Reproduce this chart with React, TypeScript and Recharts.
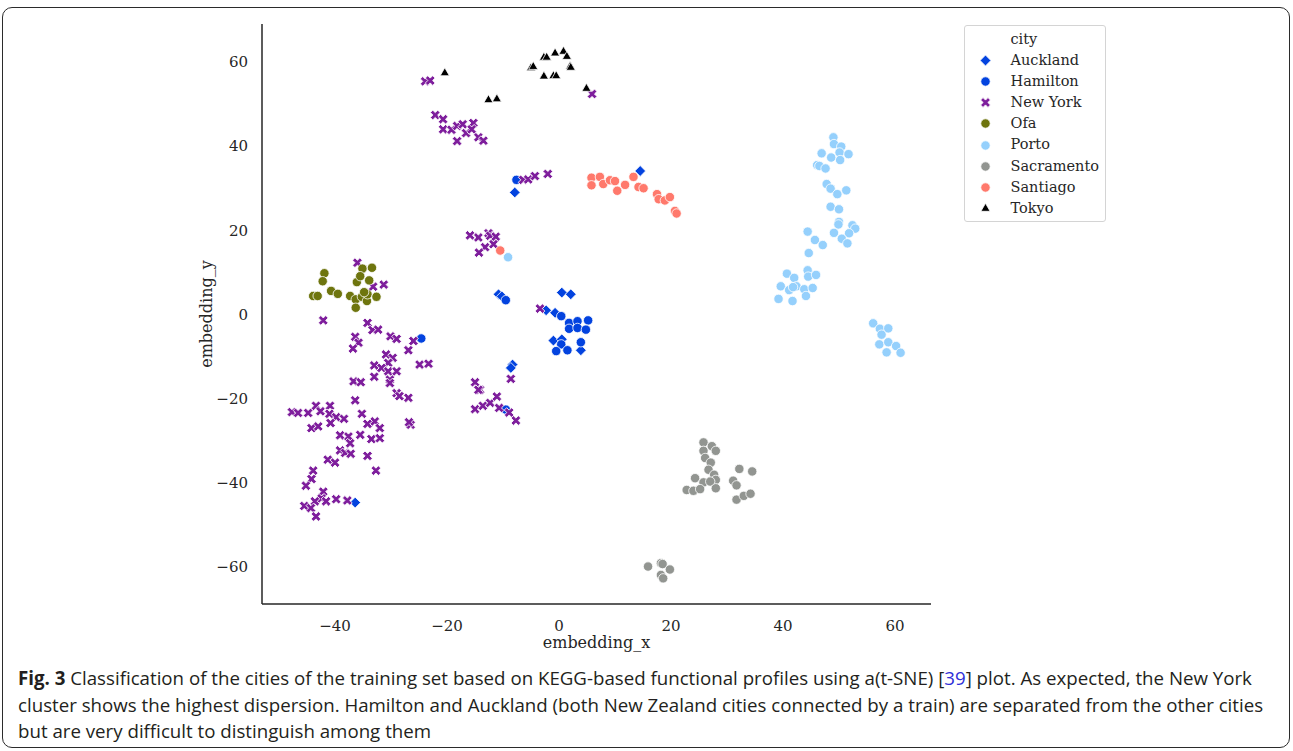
import React from 'react'
import { Label, Scatter, ScatterChart, XAxis, YAxis } from 'recharts'

type Pt = [number, number]

const CITIES = ['Auckland', 'Hamilton', 'New York', 'Ofa', 'Porto', 'Sacramento', 'Santiago', 'Tokyo']

const AUCKLAND: Pt[] = [
    [14.5, 34.1], [-7.9, 29.0], [-10.8, 4.8], [-10.2, 4.3], [0.5, 5.2], [2.1, 4.8],
    [-2.3, 1.0], [-0.7, 0.4], [-1.0, -6.2], [0.5, -5.9], [3.9, -8.5],
    [-8.3, -11.9], [-8.6, -12.7], [-36.4, -44.7],
]

const HAMILTON: Pt[] = [
    [-7.6, 32.0], [-9.5, 3.4], [0.4, -0.4], [1.8, -2.0], [3.3, -1.6], [5.2, -1.4],
    [1.8, -3.4], [3.3, -3.2], [4.8, -3.6], [0.4, -7.1], [-0.5, -8.7], [1.5, -8.5],
    [3.9, -6.6], [-24.6, -5.7], [-9.5, -22.6],
]

const NEW_YORK: Pt[] = [
    [-23.9, 55.4], [-23.0, 55.6], [5.9, 52.4],
    [-22.1, 47.4], [-20.7, 46.4], [-20.7, 44.0], [-19.2, 43.9], [-18.2, 44.8], [-17.2, 45.2],
    [-16.6, 43.1], [-15.3, 45.5], [-15.6, 44.0], [-14.4, 42.1], [-13.5, 41.3], [-18.2, 41.2],
    [-6.4, 32.0], [-5.5, 32.1], [-4.3, 32.9], [-2.0, 33.4],
    [-15.9, 18.8], [-14.4, 18.3], [-12.6, 19.3], [-12.3, 18.7], [-11.3, 18.5], [-13.2, 16.0],
    [-11.7, 16.7], [-14.3, 14.7],
    [-36.0, 12.3], [-33.2, 6.6], [-31.3, 7.1], [-42.1, -1.4], [-3.4, 1.4],
    [-8.6, -15.3], [-14.1, -17.9], [-15.0, -16.1], [-14.4, -17.9], [-15.0, -22.5], [-13.6, -21.7],
    [-12.3, -21.0], [-11.1, -19.5], [-10.7, -22.2], [-8.9, -23.3], [-7.7, -25.2],
    [-34.2, -2.0], [-33.3, -3.7], [-32.3, -3.6], [-36.4, -5.3], [-35.8, -6.7], [-36.8, -8.1],
    [-30.1, -5.2], [-29.0, -5.8], [-26.9, -8.5], [-26.0, -6.3], [-30.9, -9.5], [-29.7, -10.3],
    [-30.5, -11.5], [-33.0, -12.1], [-31.7, -12.7], [-30.5, -13.5], [-29.0, -13.5], [-33.0, -14.8],
    [-30.2, -15.5], [-30.2, -16.3], [-36.7, -15.9], [-35.4, -16.1], [-24.9, -11.9], [-23.3, -11.7],
    [-29.0, -18.7], [-28.5, -19.4], [-26.9, -19.8], [-36.4, -20.4],
    [-47.7, -23.2], [-46.6, -23.4], [-44.8, -23.4], [-43.4, -21.7], [-42.6, -23.0], [-40.9, -21.7],
    [-41.0, -23.6], [-39.8, -24.4], [-38.4, -24.8], [-40.8, -25.8], [-44.2, -27.0], [-43.0, -26.6],
    [-35.2, -23.6], [-34.2, -26.0], [-32.9, -25.4], [-32.0, -27.0], [-33.5, -29.6], [-32.0, -29.4],
    [-35.5, -28.6], [-39.1, -28.7], [-37.6, -29.0], [-37.3, -30.6], [-39.1, -32.3], [-38.2, -32.9],
    [-37.2, -33.1], [-34.2, -33.6], [-41.3, -34.5], [-40.0, -35.2], [-32.7, -37.1], [-26.5, -26.2],
    [-26.8, -25.6], [-43.9, -37.1], [-44.2, -39.1], [-45.2, -40.7], [-42.1, -42.1], [-42.4, -43.7],
    [-43.6, -44.4], [-41.6, -44.4], [-39.8, -43.9], [-37.8, -44.2], [-45.5, -45.5], [-44.3, -46.0],
    [-43.4, -48.0],
]

const OFA: Pt[] = [
    [-41.9, 9.8], [-42.2, 7.9], [-43.9, 4.4], [-43.1, 4.4], [-40.7, 5.6], [-39.5, 4.9],
    [-37.3, 4.4], [-36.3, 3.6], [-36.3, 1.6], [-35.2, 4.2], [-34.3, 3.2], [-34.2, 4.8],
    [-34.8, 5.3], [-32.6, 4.2], [-33.9, 8.1], [-36.1, 7.7], [-35.1, 10.9], [-33.4, 11.1],
    [-35.5, 9.1],
]

const PORTO: Pt[] = [
    [-9.1, 13.6],
    [49.0, 42.1], [49.1, 40.5], [50.4, 39.9], [50.1, 38.5], [51.7, 38.1], [50.2, 36.7],
    [48.6, 37.3], [46.9, 38.3], [46.1, 35.5], [46.5, 35.3], [47.6, 34.7],
    [47.8, 31.0], [48.5, 29.9], [49.7, 28.6], [51.3, 29.5], [48.5, 25.6], [50.0, 25.0],
    [50.0, 22.0], [49.9, 21.4], [52.4, 21.2], [52.9, 20.4], [49.1, 19.4], [51.8, 19.3],
    [50.5, 18.0], [51.5, 16.9], [44.4, 19.7], [45.7, 17.7], [47.1, 16.5], [44.6, 14.6],
    [40.7, 9.7], [42.0, 8.7], [44.4, 10.5], [44.5, 9.0], [45.9, 9.4],
    [39.6, 6.7], [41.1, 5.8], [42.4, 6.7], [41.8, 6.5], [43.8, 6.0], [45.3, 6.3], [44.1, 4.4],
    [39.2, 3.7], [41.7, 3.2],
    [56.1, -2.1], [57.3, -3.4], [58.8, -3.3], [57.6, -4.8], [57.2, -7.1], [58.8, -6.6],
    [58.5, -9.0], [60.2, -7.5], [61.0, -9.1],
]

const SACRAMENTO: Pt[] = [
    [25.8, -30.4], [27.3, -31.3], [28.0, -32.4], [25.8, -32.4], [26.1, -34.1], [27.1, -35.2],
    [26.7, -36.9], [27.7, -38.1], [28.0, -39.3], [24.3, -38.9], [25.8, -39.9], [27.0, -39.7],
    [22.8, -41.7], [24.0, -41.9], [25.2, -41.5], [28.0, -41.3], [32.2, -36.7], [34.5, -37.3],
    [31.1, -39.5], [31.7, -40.6], [31.7, -44.0], [33.0, -43.1], [34.2, -42.6],
    [15.9, -59.9], [18.2, -59.1], [18.5, -59.3], [19.8, -60.6], [18.2, -61.9], [18.6, -62.7],
]

const SANTIAGO: Pt[] = [
    [-10.5, 15.2],
    [5.8, 32.5], [5.8, 30.7], [7.3, 32.7], [7.9, 31.0], [9.1, 31.9], [10.0, 31.7],
    [10.4, 29.4], [11.8, 30.8], [13.3, 32.7], [14.2, 30.3], [15.1, 30.0], [17.5, 28.6],
    [17.8, 27.4], [18.9, 27.1], [19.8, 27.9], [20.7, 24.6], [21.0, 24.0],
]

const TOKYO: Pt[] = [
    [-20.4, 57.4], [-12.6, 51.0], [-11.1, 51.2], [-5.0, 58.6], [-4.6, 58.9], [-2.7, 61.1],
    [-2.2, 61.1], [-0.7, 62.1], [0.8, 62.5], [1.4, 61.3], [-2.7, 56.6], [-1.0, 56.7],
    [-0.5, 56.7], [2.0, 59.0], [2.1, 58.7], [4.9, 53.7],
]

const X_TICKS = [-40, -20, 0, 20, 40, 60]
const Y_TICKS = [-60, -40, -20, 0, 20, 40, 60]

const TEXT = '#262626'
const SERIF = 'DejaVu Serif'

type Kind = 'diamond' | 'circle' | 'x' | 'triangle'

const SERIES: { name: string; points: Pt[]; color: string; kind: Kind }[] = [
    { name: CITIES[0], points: AUCKLAND, color: '#0343df', kind: 'diamond' },
    { name: CITIES[1], points: HAMILTON, color: '#0343df', kind: 'circle' },
    { name: CITIES[2], points: NEW_YORK, color: '#7e1e9c', kind: 'x' },
    { name: CITIES[3], points: OFA, color: '#6e750e', kind: 'circle' },
    { name: CITIES[4], points: PORTO, color: '#95d0fc', kind: 'circle' },
    { name: CITIES[5], points: SACRAMENTO, color: '#929591', kind: 'circle' },
    { name: CITIES[6], points: SANTIAGO, color: '#ff796c', kind: 'circle' },
    { name: CITIES[7], points: TOKYO, color: '#000000', kind: 'triangle' },
]

function Marker({ cx, cy, color, kind }: { cx: number; cy: number; color: string; kind: Kind }) {
    const common = { fill: color, stroke: '#fff', strokeWidth: 0.8 }
    if (kind === 'circle') return <circle cx={cx} cy={cy} r={4.7} {...common} />
    if (kind === 'diamond') {
        const d = 5.4
        return <path d={`M${cx},${cy - d}L${cx + d},${cy}L${cx},${cy + d}L${cx - d},${cy}Z`} {...common} />
    }
    if (kind === 'triangle') {
        return <path d={`M${cx},${cy - 5.2}L${cx + 4.6},${cy + 2.8}L${cx - 4.6},${cy + 2.8}Z`} {...common} />
    }
    // thick "X" like matplotlib's filled X marker
    const s = 5.2
    const w = 1.7
    const plus = `M${-w},${-s}L${w},${-s}L${w},${-w}L${s},${-w}L${s},${w}L${w},${w}L${w},${s}L${-w},${s}L${-w},${w}L${-s},${w}L${-s},${-w}L${-w},${-w}Z`
    return <path d={plus} transform={`translate(${cx},${cy}) rotate(45)`} {...common} />
}

const minus = (v: number) => String(v).replace('-', '\u2212')

function CityLegend() {
    return (
        <div
            style={{
                position: 'absolute',
                left: 963.5,
                top: 25,
                width: 142,
                height: 197,
                boxSizing: 'border-box',
                border: '1px solid #d4d4d4',
                borderRadius: 3,
                background: '#fff',
                paddingTop: 2.5,
                fontFamily: SERIF,
                fontSize: 14.5,
                color: TEXT,
                lineHeight: '21.2px',
            }}
        >
            <div style={{ paddingLeft: 46 }}>city</div>
            {SERIES.map((s) => (
                <div key={s.name} style={{ display: 'flex', alignItems: 'center', height: 21.2 }}>
                    <svg width={46} height={21} style={{ flexShrink: 0 }}>
                        <Marker cx={20.5} cy={10.5} color={s.color} kind={s.kind} />
                    </svg>
                    <span>{s.name}</span>
                </div>
            ))}
        </div>
    )
}

function YTitle(props: any) {
    const { x, y, height } = props.viewBox
    const cx = x + 4
    const cy = y + height / 2
    return (
        <text
            x={cx}
            y={cy}
            transform={`rotate(-90, ${cx}, ${cy})`}
            textAnchor="middle"
            dominantBaseline="central"
            fontFamily={SERIF}
            fontSize={16}
            fill={TEXT}
        >
            embedding_y
        </text>
    )
}

export default function App() {
    const tick = { fontSize: 15, fill: TEXT, fontFamily: SERIF }
    return (
        <div style={{ position: 'absolute', left: 0, top: 0, width: 1293, height: 751, background: '#fff' }}>
            <div
                style={{
                    position: 'absolute',
                    left: 2,
                    top: 7,
                    width: 1288,
                    height: 741,
                    boxSizing: 'border-box',
                    border: '1.5px solid #2b2b2b',
                    borderRadius: 10,
                }}
            />
            <div style={{ position: 'absolute', left: 0, top: 0 }}>
                <ScatterChart width={960} height={660} margin={{ top: 24, right: 29, bottom: 6, left: 202 }}>
                    <XAxis
                        type="number"
                        dataKey="x"
                        domain={[-53.04, 66.43]}
                        ticks={X_TICKS}
                        allowDataOverflow
                        height={50}
                        tick={tick}
                        tickLine={false}
                        tickMargin={10}
                        tickFormatter={minus}
                        axisLine={{ stroke: TEXT, strokeWidth: 1.5 }}
                    >
                        <Label
                            value="embedding_x"
                            position="insideBottom"
                            offset={6}
                            style={{ fontFamily: SERIF, fontSize: 16, fill: TEXT }}
                        />
                    </XAxis>
                    <YAxis
                        type="number"
                        dataKey="y"
                        domain={[-68.8, 69.03]}
                        ticks={Y_TICKS}
                        allowDataOverflow
                        width={60}
                        tick={tick}
                        tickLine={false}
                        tickMargin={8}
                        tickFormatter={minus}
                        axisLine={{ stroke: TEXT, strokeWidth: 1.5 }}
                    >
                        <Label content={YTitle} />
                    </YAxis>
                    {SERIES.map((s) => (
                        <Scatter
                            key={s.name}
                            name={s.name}
                            data={s.points.map(([x, y]) => ({ x, y }))}
                            isAnimationActive={false}
                            shape={(p: any) => <Marker cx={p.cx} cy={p.cy} color={s.color} kind={s.kind} />}
                        />
                    ))}
                </ScatterChart>
            </div>
            <CityLegend />
            <div
                style={{
                    position: 'absolute',
                    left: 18,
                    top: 665,
                    fontFamily: 'Open Sans',
                    fontSize: 18.7,
                    lineHeight: '26.5px',
                    color: '#231f20',
                    whiteSpace: 'nowrap',
                }}
            >
                <b>Fig. 3</b> Classification of the cities of the training set based on KEGG-based functional profiles using
                a(t-SNE) [<span style={{ color: '#2f2fd8' }}>39</span>] plot. As expected, the New York
                <br />
                cluster shows the highest dispersion. Hamilton and Auckland (both New Zealand cities connected by a train)
                are separated from the other cities
                <br />
                but are very difficult to distinguish among them
            </div>
        </div>
    )
}
